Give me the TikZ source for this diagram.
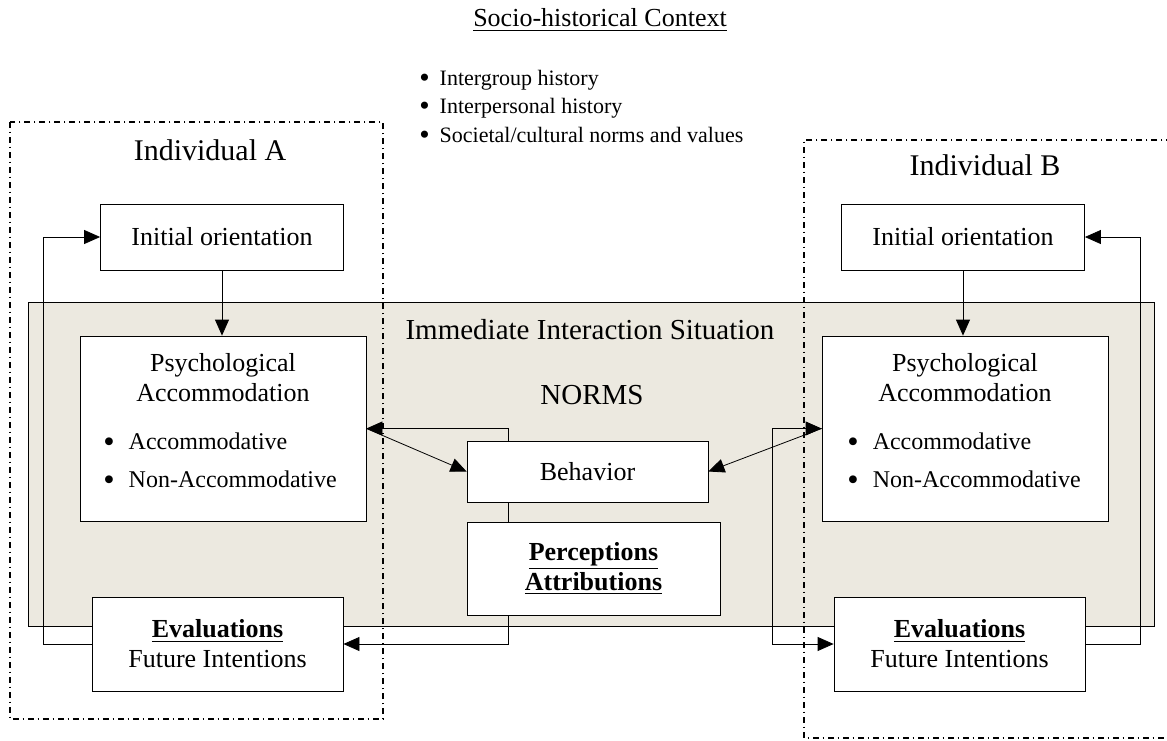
\documentclass[tikz,border=0pt]{standalone}
\usepackage{fontspec}
\setmainfont{Liberation Serif}
\usetikzlibrary{arrows.meta}
\definecolor{situation}{HTML}{ECE9E0}
\pgfdeclarelayer{back}
\pgfdeclarelayer{wires}
\pgfsetlayers{back,wires,main}
\newcommand{\dotitem}{\raisebox{-0.12em}{\scalebox{1.35}{\textbullet}}}

\begin{document}
\begin{tikzpicture}[x=0.5pt,y=-0.5pt,line width=1.3pt,>={Triangle[length=8pt,width=7pt]},
  box/.style={draw,fill=white,align=center,inner sep=0pt,font=\fontsize{13}{15}\selectfont},
  person/.style={draw,line width=0.7pt,dash pattern=on 2.8pt off 2pt on 0.7pt off 2pt},
  big/.style={font=\fontsize{14.5}{17}\selectfont},
  item/.style={anchor=west,inner sep=1pt,font=\fontsize{12}{14}\selectfont}]

\useasboundingbox (0,0) rectangle (1167,740);

% Socio-historical context
\node[font=\fontsize{13}{15}\selectfont] (context) at (600,20) {\underline{Socio-historical Context}};
\foreach \t [count=\i] in {Intergroup history, Interpersonal history, Societal/cultural norms and values} {
    \node[anchor=west,inner sep=1pt,font=\fontsize{11}{13}\selectfont] (ctx\i) at (416,52+28*\i) {\dotitem\hspace{5pt}\t};
}

% Immediate interaction situation (shaded)
\begin{pgfonlayer}{back}
    \draw[fill=situation] (28,302) rectangle (1154,626);
\end{pgfonlayer}
\node[big] (iis) at (590,330) {Immediate Interaction Situation};
\node[big] (norms) at (592,395) {NORMS};

% Individual A and B frames
\draw[person] (10,122) rectangle (383,719);
\node[big,font=\fontsize{15}{17}\selectfont] (indA) at (210,150) {Individual A};
\draw[person] (1172,140) -- (804,140) -- (804,738) -- (1172,738);
\node[big,font=\fontsize{15}{17}\selectfont] (indB) at (985,165) {Individual B};

% Initial orientation
\node[box,minimum width=121.5pt,minimum height=33pt] (initA) at (222,237) {Initial orientation};
\node[box,minimum width=121.5pt,minimum height=33pt] (initB) at (963,237) {Initial orientation};

% Psychological accommodation
\node[box,minimum width=143pt,minimum height=92.5pt] (psyA) at (223,428.5) {};
\node[box,minimum width=143pt,minimum height=92.5pt] (psyB) at (965,428.5) {};
\node[align=center,font=\fontsize{13}{15}\selectfont] (psyAt) at (223,378) {Psychological\\Accommodation};
\node[align=center,font=\fontsize{13}{15}\selectfont] (psyBt) at (965,378) {Psychological\\Accommodation};
\foreach \t [count=\i] in {Accommodative, Non-Accommodative} {
    \node[item] (psyA\i) at (101,405+38*\i) {\dotitem\hspace{7pt}\t};
    \node[item] (psyB\i) at (845,405+38*\i) {\dotitem\hspace{7pt}\t};
}

% Behavior and perceptions
\node[box,minimum width=120.5pt,minimum height=30.5pt] (behav) at (587.5,471.5) {Behavior};
\node[box,minimum width=126.5pt,minimum height=46.5pt] (percep) at (593.5,568.5)
    {\textbf{\underline{Perceptions}}\\\textbf{\underline{Attributions}}};

% Evaluations
\node[box,minimum width=125.5pt,minimum height=47pt] (evalA) at (217.5,644)
    {\textbf{\underline{Evaluations}}\\Future Intentions};
\node[box,minimum width=125.5pt,minimum height=47pt] (evalB) at (959.5,644)
    {\textbf{\underline{Evaluations}}\\Future Intentions};

% Connectors
\begin{pgfonlayer}{wires}
    \draw[->] (initA.south) -- (initA.south |- psyA.north);
    \draw[->] (initB.south) -- (initB.south |- psyB.north);
    \draw[->] (evalA.west) -- ++(-48,0) |- (initA.west);
    \draw[->] (evalB.east) -- ++(55,0) |- (initB.east);
    \draw[<->] (psyA.east) -- ++(142,0) |- (evalA.east);
    \draw[<->] (psyB.west) -- ++(-49,0) |- (evalB.west);
    \draw[->] (psyA.east) -- (behav.west);
    \draw[->] (psyB.west) -- (behav.east);
\end{pgfonlayer}

\end{tikzpicture}
\end{document}
